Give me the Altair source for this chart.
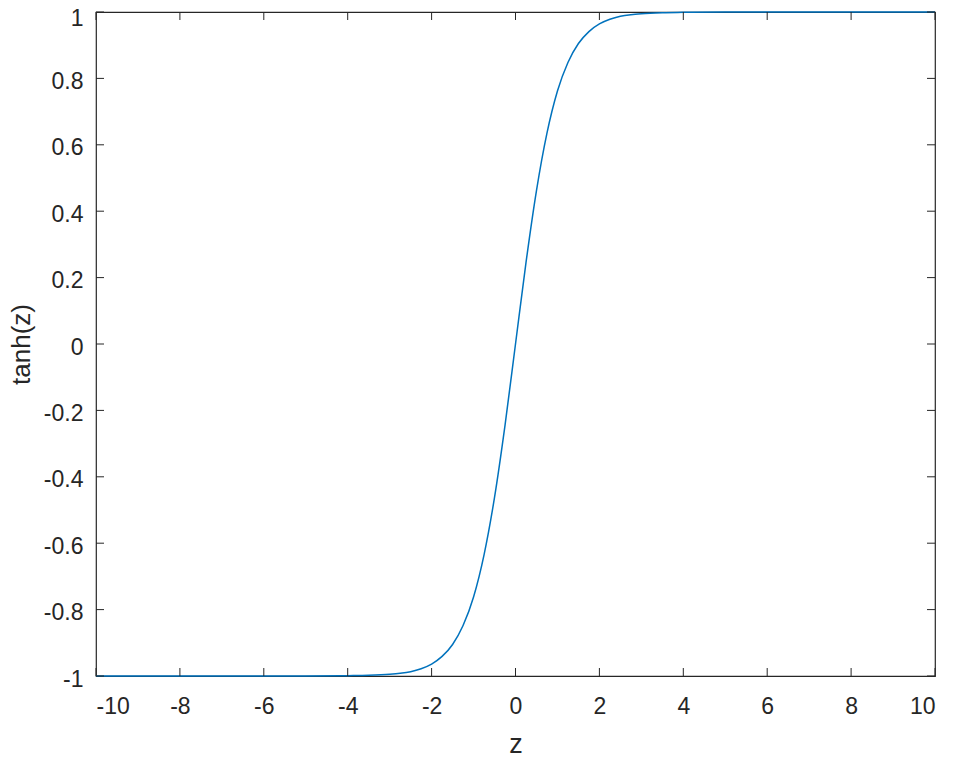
import altair as alt
import pandas as pd

# values
z = [-10, -8, -6, -5, -4, -3.5, -3, -2.75, -2.5, -2.25, -2, -1.75, -1.5, -1.25,
     -1, -0.75, -0.5, -0.25, 0, 0.25, 0.5, 0.75, 1, 1.25, 1.5, 1.75, 2, 2.25,
     2.5, 2.75, 3, 3.5, 4, 5, 6, 8, 10]
tanh_z = [-1.0, -1.0, -1.0, -1.0, -0.999, -0.998, -0.995, -0.992, -0.987, -0.978,
          -0.964, -0.941, -0.905, -0.848, -0.762, -0.635, -0.462, -0.245, 0.0,
          0.245, 0.462, 0.635, 0.762, 0.848, 0.905, 0.941, 0.964, 0.978, 0.987,
          0.992, 0.995, 0.998, 0.999, 1.0, 1.0, 1.0, 1.0]

x_ticks = [-10, -8, -6, -4, -2, 0, 2, 4, 6, 8, 10]
y_ticks = [-1, -0.8, -0.6, -0.4, -0.2, 0, 0.2, 0.4, 0.6, 0.8, 1]

W, H = 839, 664
TICK = 8
FONT = "Liberation Sans"
GREY = "#262626"

df = pd.DataFrame({"z": z, "tanh": tanh_z})
xt = pd.DataFrame({"v": x_ticks})
yt = pd.DataFrame({"v": y_ticks})

label_expr = "datum.value < 0 ? '-' + format(-datum.value, '~g') : format(datum.value, '~g')"

xscale = alt.Scale(domain=[-10, 10], nice=False, zero=False)
yscale = alt.Scale(domain=[-1, 1], nice=False, zero=False)

line = alt.Chart(df).mark_line(color="#0072BD", strokeWidth=1.5, interpolate="monotone").encode(
    x=alt.X("z:Q", scale=xscale, title="z",
            axis=alt.Axis(values=x_ticks, ticks=False, domain=False, grid=False,
                          labelExpr=label_expr, labelFont=FONT, labelFontSize=23,
                          labelColor=GREY, labelPadding=19,
                          titleFont=FONT, titleFontSize=27, titleFontWeight="normal",
                          titleColor=GREY, titleBaseline="alphabetic",
                          titleY=76)),
    y=alt.Y("tanh:Q", scale=yscale, title="tanh(z)",
            axis=alt.Axis(values=y_ticks, ticks=False, domain=False, grid=False,
                          labelExpr=label_expr, labelFont=FONT, labelFontSize=23,
                          labelColor=GREY, labelPadding=13,
                          labelOffset={"condition": {"test": "datum.value == 1", "value": 6},
                                       "value": 3},
                          titleFont=FONT, titleFontSize=26, titleFontWeight="normal",
                          titleColor=GREY, titleBaseline="alphabetic",
                          titleX=-67)),
)

bottom_ticks = alt.Chart(xt).mark_rule(color=GREY, strokeWidth=1).encode(
    x=alt.X("v:Q", scale=xscale), y=alt.value(H), y2=alt.value(H - TICK))
top_ticks = alt.Chart(xt).mark_rule(color=GREY, strokeWidth=1).encode(
    x=alt.X("v:Q", scale=xscale), y=alt.value(0), y2=alt.value(TICK))
left_ticks = alt.Chart(yt).mark_rule(color=GREY, strokeWidth=1).encode(
    y=alt.Y("v:Q", scale=yscale), x=alt.value(0), x2=alt.value(TICK))
right_ticks = alt.Chart(yt).mark_rule(color=GREY, strokeWidth=1).encode(
    y=alt.Y("v:Q", scale=yscale), x=alt.value(W), x2=alt.value(W - TICK))

chart = alt.layer(line, bottom_ticks, top_ticks, left_ticks, right_ticks).properties(
    width=W, height=H,
    autosize=alt.AutoSizeParams(type="none"),
    padding={"left": 88, "top": 4, "right": 10, "bottom": 83},
    background="white",
).configure_view(stroke=GREY, strokeWidth=1.2)

chart.save("out.html", embed_options={"renderer": "svg", "actions": False})
